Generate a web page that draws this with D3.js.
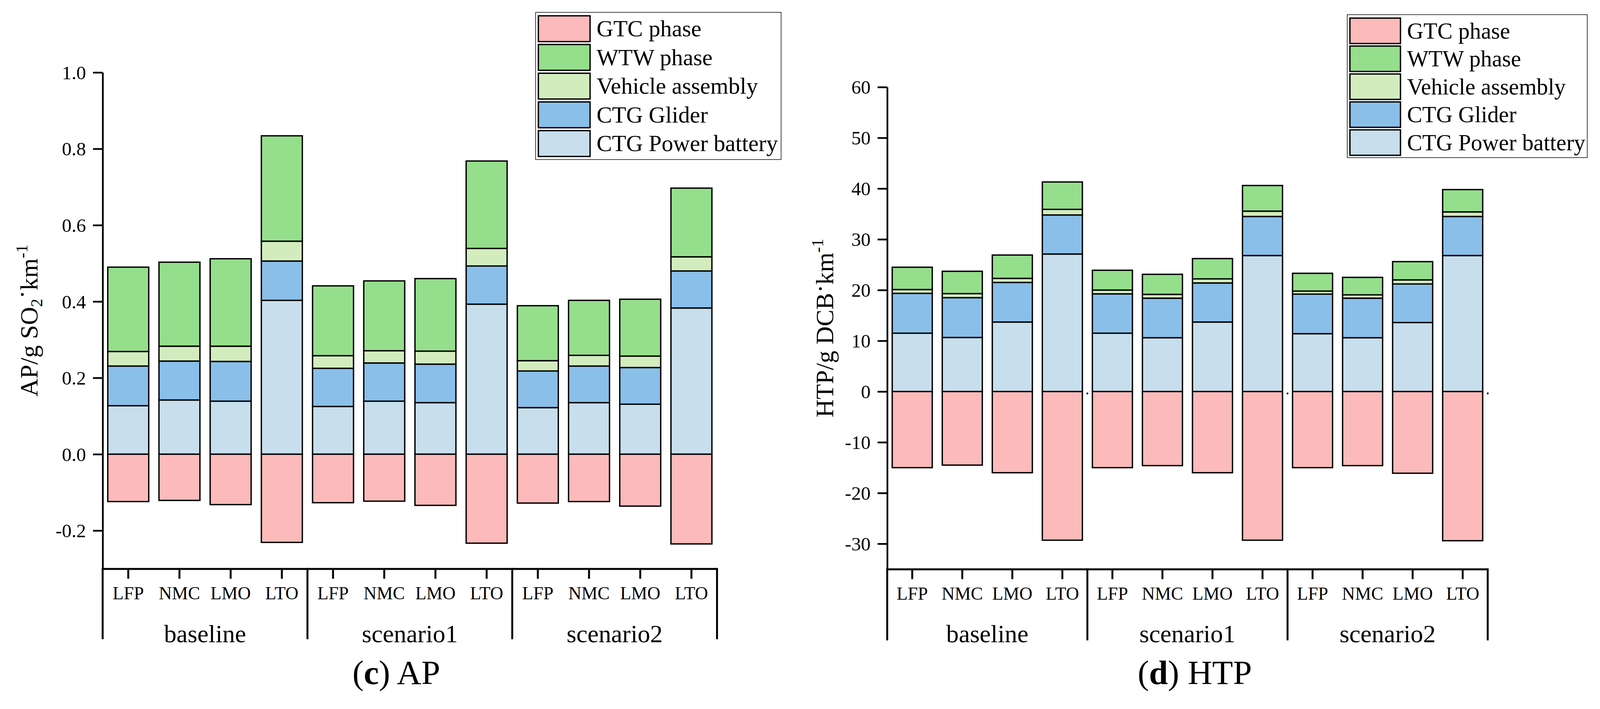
<!DOCTYPE html>
<html lang="en">
<head>
    <meta charset="UTF-8">
    <title>AP and HTP stacked bars</title>
    <script src="https://d3js.org/d3.v7.min.js"></script>
    <style>
        html, body {
            margin: 0;
            padding: 0;
            overflow: hidden;
            background: #fff;
        }
        svg {
            display: block;
            width: 100vw;
            height: 100vh;
        }
        svg text {
            font-family: "Liberation Serif", "Times New Roman", serif;
            fill: #000;
        }
        .bar rect {
            stroke: #000;
            stroke-width: 3.5px;
        }
        .axis path, .axis line {
            stroke: #000;
        }
    </style>
</head>
<body>
<div id="chart"></div>

<script>
    // categories
    const batteries = ["LFP", "NMC", "LMO", "LTO"];
    const groups = ["baseline", "scenario1", "scenario2"];
    const seriesNames = ["CTG Power battery", "CTG Glider", "Vehicle assembly", "WTW phase", "GTC phase"];
    const legendOrder = ["GTC phase", "WTW phase", "Vehicle assembly", "CTG Glider", "CTG Power battery"];
    const colors = ["#c7deec", "#89bfe9", "#d3ecbe", "#95de8b", "#fcbaba"];

    // AP, g SO2 per km (one value per bar, baseline LFP..LTO, scenario1, scenario2)
    const apBattery = [0.127, 0.142, 0.139, 0.403, 0.125, 0.139, 0.135, 0.393, 0.122, 0.135, 0.131, 0.383];
    const apGlider  = [0.104, 0.102, 0.104, 0.103, 0.100, 0.100, 0.101, 0.100, 0.096, 0.096, 0.096, 0.097];
    const apVehicle = [0.038, 0.039, 0.040, 0.052, 0.033, 0.032, 0.034, 0.046, 0.027, 0.028, 0.030, 0.037];
    const apWTW     = [0.221, 0.220, 0.229, 0.276, 0.183, 0.183, 0.190, 0.229, 0.144, 0.144, 0.149, 0.180];
    const apGTC     = [-0.124, -0.121, -0.132, -0.231, -0.127, -0.123, -0.134, -0.233, -0.128, -0.124, -0.136, -0.235];
    const apTicks = [-0.2, 0.0, 0.2, 0.4, 0.6, 0.8, 1.0];

    // HTP, g DCB per km
    const htpBattery = [11.5, 10.65, 13.7, 27.1, 11.5, 10.6, 13.7, 26.8, 11.4, 10.6, 13.6, 26.8];
    const htpGlider  = [7.85, 7.85, 7.8, 7.7, 7.75, 7.8, 7.7, 7.7, 7.8, 7.8, 7.6, 7.7];
    const htpVehicle = [0.75, 0.8, 0.8, 1.1, 0.75, 0.75, 0.8, 1.05, 0.6, 0.65, 0.8, 0.9];
    const htpWTW     = [4.4, 4.4, 4.6, 5.4, 3.9, 3.95, 4.0, 5.05, 3.5, 3.45, 3.6, 4.4];
    const htpGTC     = [-15.0, -14.5, -16.0, -29.3, -15.0, -14.6, -16.0, -29.3, -15.0, -14.6, -16.1, -29.4];
    const htpTicks = [-30, -20, -10, 0, 10, 20, 30, 40, 50, 60];

    const W = 4146, H = 1816;
    // fixed drawing frame fitted to the window (a little extra height: the shot came out stretched)
    const svg = d3.select("#chart").append("svg")
        .attr("viewBox", `0 0 ${W} ${Math.round(H * 1.013)}`)
        .attr("preserveAspectRatio", "none");

    svg.append("rect").attr("width", W).attr("height", H * 1.02).attr("fill", "#fff");

    const color = d3.scaleOrdinal().domain(seriesNames).range(colors);

    function rows(series) {
        const out = [];
        groups.forEach((g, gi) => {
            batteries.forEach((b, bi) => {
                const i = gi * batteries.length + bi;
                const r = { key: String(i), battery: b, group: g };
                seriesNames.forEach((s, si) => r[s] = series[si][i]);
                out.push(r);
            });
        });
        return out;
    }

    function drawPanel(p) {
        const data = rows(p.series);
        const g = svg.append("g");

        const x = d3.scaleBand()
            .domain(data.map(d => d.key))
            .range([p.x0, p.x1])
            .paddingInner(0.2)
            .paddingOuter(0.1);

        const y = d3.scaleLinear()
            .domain(p.domain)
            .range([p.yBottom, p.yTop]);

        const stacked = d3.stack()
            .keys(seriesNames)
            .offset(d3.stackOffsetDiverging)(data);

        // bars
        g.selectAll(".bar")
            .data(stacked)
            .join("g")
            .attr("class", "bar")
            .attr("fill", s => color(s.key))
            .selectAll("rect")
            .data(s => s)
            .join("rect")
            .attr("x", d => x(d.data.key))
            .attr("width", x.bandwidth())
            .attr("y", d => y(Math.max(d[0], d[1])))
            .attr("height", d => Math.abs(y(d[0]) - y(d[1])));

        // y axis
        const yAxis = g.append("g")
            .attr("class", "axis")
            .attr("transform", `translate(${p.x0},0)`)
            .call(d3.axisLeft(y)
                .tickValues(p.ticks)
                .tickSize(25)
                .tickSizeOuter(0)
                .tickPadding(18)
                .tickFormat(d => p.fmt(d).replace("\u2212", "-")))
            .attr("font-family", null);
        yAxis.select(".domain").attr("stroke-width", 4.5);
        yAxis.selectAll(".tick line").attr("stroke-width", 4.5);
        yAxis.selectAll(".tick text")
            .attr("font-size", 50)
            .attr("dy", "0.34em");

        // x axis
        const xAxis = g.append("g")
            .attr("class", "axis")
            .attr("transform", `translate(0,${p.yBottom})`)
            .call(d3.axisBottom(x)
                .tickSize(26)
                .tickSizeOuter(0)
                .tickPadding(20)
                .tickFormat(k => data[+k].battery))
            .attr("font-family", null);
        xAxis.select(".domain").attr("stroke-width", 5);
        xAxis.selectAll(".tick line").attr("stroke-width", 5);
        xAxis.selectAll(".tick text").attr("font-size", 47);

        // group dividers and labels
        const perGroup = batteries.length * (p.x1 - p.x0) / data.length;
        const bounds = d3.range(groups.length + 1).map(i => p.x0 + i * perGroup);
        g.selectAll(".divider")
            .data(bounds)
            .join("line")
            .attr("x1", d => d).attr("x2", d => d)
            .attr("y1", p.yBottom - 2)
            .attr("y2", p.dividerEnd)
            .attr("stroke", "#000")
            .attr("stroke-width", 5);

        g.selectAll(".grp")
            .data(groups)
            .join("text")
            .attr("x", (d, i) => (bounds[i] + bounds[i + 1]) / 2)
            .attr("y", p.groupBaseline)
            .attr("text-anchor", "middle")
            .attr("font-size", 65)
            .text(d => d);

        if (p.dots) {
            g.selectAll(".dot")
                .data(bounds.slice(1))
                .join("circle")
                .attr("cx", d => d)
                .attr("cy", y(0) + 5)
                .attr("r", 2.5)
                .attr("fill", "#000");
        }

        // y axis title
        const yl = g.append("text")
            .attr("transform", `translate(${p.yLabelX},${(p.yTop + p.yBottom) / 2}) rotate(-90)`)
            .attr("text-anchor", "middle")
            .attr("font-size", 65);
        p.yLabel.forEach(part => {
            yl.append("tspan")
                .attr("font-size", part.size || 65)
                .attr("dy", part.dy || 0)
                .text(part.t);
        });

        // panel title
        const t = g.append("text")
            .attr("x", p.titleX)
            .attr("y", 1775)
            .attr("text-anchor", "middle")
            .attr("font-size", 88);
        t.append("tspan").text("(");
        t.append("tspan").attr("font-weight", "bold").text(p.letter);
        t.append("tspan").text(") " + p.title);

        // legend
        const lg = g.append("g");
        lg.append("rect")
            .attr("x", p.legend.x)
            .attr("y", p.legend.y)
            .attr("width", p.legend.w)
            .attr("height", p.legend.h)
            .attr("fill", "#fff")
            .attr("stroke", "#000")
            .attr("stroke-width", 1.5);
        const items = lg.selectAll(".item")
            .data(legendOrder)
            .join("g")
            .attr("transform", (d, i) => `translate(${p.legend.x + 7},${p.legend.y + 9 + i * p.legend.pitch})`);
        items.append("rect")
            .attr("width", p.legend.sw)
            .attr("height", p.legend.sh)
            .attr("fill", d => color(d))
            .attr("stroke", "#000")
            .attr("stroke-width", 3.5);
        items.append("text")
            .attr("x", p.legend.sw + 17)
            .attr("y", p.legend.sh / 2 + 20)
            .attr("font-size", p.legend.fs)
            .text(d => d);
    }

    drawPanel({
        series: [apBattery, apGlider, apVehicle, apWTW, apGTC],
        domain: [-0.3, 1.0],
        ticks: apTicks,
        fmt: d3.format(".1f"),
        x0: 266, x1: 1858,
        yTop: 188, yBottom: 1476,
        dividerEnd: 1659,
        groupBaseline: 1667,
        yLabelX: 97,
        yLabel: [
            { t: "AP/g SO" },
            { t: "2", size: 43, dy: 12 },
            { t: "\u00b7", dy: -30 },
            { t: "km", dy: 18 },
            { t: "-1", size: 43, dy: -26 }
        ],
        titleX: 1027,
        letter: "c",
        title: "AP",
        legend: { x: 1388, y: 32, w: 636, h: 382, pitch: 74.5, sw: 134, sh: 67, fs: 60 },
        dots: false
    });

    drawPanel({
        series: [htpBattery, htpGlider, htpVehicle, htpWTW, htpGTC],
        domain: [-35, 60],
        ticks: htpTicks,
        fmt: d3.format("d"),
        x0: 2299, x1: 3855,
        yTop: 226, yBottom: 1477,
        dividerEnd: 1662,
        groupBaseline: 1667,
        yLabelX: 2159,
        yLabel: [
            { t: "HTP/g DCB" },
            { t: "\u00b7", dy: -12 },
            { t: "km", dy: 12 },
            { t: "-1", size: 43, dy: -26 }
        ],
        titleX: 3096,
        letter: "d",
        title: "HTP",
        legend: { x: 3491, y: 38, w: 622, h: 371, pitch: 72.5, sw: 131, sh: 66, fs: 59 },
        dots: true
    });
</script>
</body>
</html>
